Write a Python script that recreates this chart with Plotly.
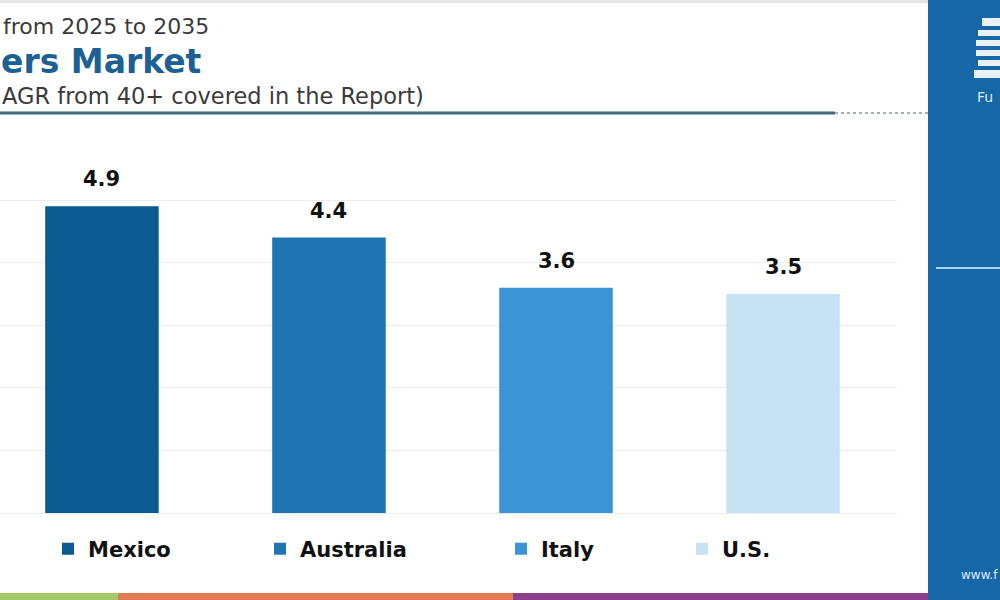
import plotly.graph_objects as go

countries = ["Mexico", "Australia", "Italy", "U.S."]
cagr = [4.9, 4.4, 3.6, 3.5]
bar_colors = ["#0b5a91", "#1f74b1", "#3a94d6", "#c6e2f3"]
value_labels = ["4.9", "4.4", "3.6", "3.5"]

W, H = 1000, 600
ML, MR, MT, MB = 0, 103, 150, 87
PW = W - ML - MR
PH = H - MT - MB


def px(x):
    return (x - ML) / PW


def py(y):
    return (H - MB - y) / PH


fig = go.Figure()
legend_names = ["legend", "legend2", "legend3", "legend4"]
for c, v, col, lg in zip(countries, cagr, bar_colors, legend_names):
    fig.add_trace(go.Bar(x=[c], y=[v], name=c, marker=dict(color=col, line=dict(width=0)),
                         width=0.5, legend=lg, hoverinfo="skip"))

for c, v, t in zip(countries, cagr, value_labels):
    fig.add_annotation(x=c, y=v, text=t, showarrow=False, yanchor="bottom", yshift=13,
                       font=dict(family="DejaVu Sans", size=21, color="#111111", weight="bold"))

shapes = []
# top gray line
shapes.append(dict(type="rect", xref="paper", yref="paper", x0=px(0), x1=px(928), y0=py(3), y1=py(0),
                   fillcolor="#e4e4e4", line=dict(width=0), layer="below"))
# title underline
shapes.append(dict(type="line", xref="paper", yref="paper", x0=px(0), x1=px(835), y0=py(113), y1=py(113),
                   line=dict(color="#41697f", width=3)))
shapes.append(dict(type="line", xref="paper", yref="paper", x0=px(835), x1=px(928), y0=py(113), y1=py(113),
                   line=dict(color="#9fb0bd", width=2, dash="dot")))
# right panel
shapes.append(dict(type="rect", xref="paper", yref="paper", x0=px(928), x1=px(1000), y0=py(600), y1=py(0),
                   fillcolor="#1767a8", line=dict(width=0)))
shapes.append(dict(type="line", xref="paper", yref="paper", x0=px(936), x1=px(1000), y0=py(268), y1=py(268),
                   line=dict(color="#a8d0ee", width=2)))
# logo glyph
for (y0, y1, x0) in [(18, 26, 982), (30, 36, 978), (40, 46, 976), (50, 56, 976), (60, 66, 978), (70, 78, 974)]:
    shapes.append(dict(type="rect", xref="paper", yref="paper", x0=px(x0), x1=px(1000), y0=py(y1), y1=py(y0),
                       fillcolor="#e8f1f8", line=dict(width=0)))
# bottom colour strip
for x0, x1, col in [(0, 118, "#a4c96b"), (118, 513, "#e27a52"), (513, 928, "#8b3f8c")]:
    shapes.append(dict(type="rect", xref="paper", yref="paper", x0=px(x0), x1=px(x1), y0=py(600), y1=py(593),
                       fillcolor=col, line=dict(width=0)))

fig.update_layout(shapes=shapes)

# titles
fig.add_annotation(xref="paper", yref="paper", x=px(1), y=py(26), xanchor="left", yanchor="middle",
                   text="from 2025 to 2035", showarrow=False,
                   font=dict(family="DejaVu Sans", size=22, color="#3a3a3a"))
fig.add_annotation(xref="paper", yref="paper", x=px(-1), y=py(61), xanchor="left", yanchor="middle",
                   text="ers Market", showarrow=False,
                   font=dict(family="DejaVu Sans", size=33, color="#1d6194", weight="bold"))
fig.add_annotation(xref="paper", yref="paper", x=px(0), y=py(96), xanchor="left", yanchor="middle",
                   text="AGR from 40+ covered in the Report)", showarrow=False,
                   font=dict(family="DejaVu Sans", size=22.5, color="#3a3a3a"))
# panel texts
fig.add_annotation(xref="paper", yref="paper", x=px(975), y=py(97), xanchor="left", yanchor="middle",
                   text="Fu", showarrow=False,
                   font=dict(family="DejaVu Sans", size=14, color="#dceaf6"))
fig.add_annotation(xref="paper", yref="paper", x=px(959), y=py(575), xanchor="left", yanchor="middle",
                   text="www.f", showarrow=False,
                   font=dict(family="DejaVu Sans", size=12, color="#dceaf6"))

legend_font = dict(family="DejaVu Sans", size=21, color="#111111", weight="bold")
legend_left = [48, 260, 501, 682]
layout_legends = {}
for lg, lx in zip(legend_names, legend_left):
    layout_legends[lg] = dict(x=px(lx), y=py(549), xanchor="left", yanchor="middle", orientation="h",
                              font=legend_font, bgcolor="rgba(0,0,0,0)", borderwidth=0)

fig.update_layout(
    width=W, height=H,
    margin=dict(l=ML, r=MR, t=MT, b=MB),
    paper_bgcolor="white", plot_bgcolor="white",
    barmode="overlay",
    showlegend=True,
    xaxis=dict(range=[-0.449, 3.502], showticklabels=False, showgrid=False, zeroline=False,
               showline=False, ticks=""),
    yaxis=dict(range=[0, 5.8], dtick=1, showticklabels=False, showgrid=True, gridcolor="#ececec",
               gridwidth=1, zeroline=True, zerolinecolor="#ececec", zerolinewidth=1, showline=False, ticks=""),
    **layout_legends,
)

fig.write_html("out.html")
